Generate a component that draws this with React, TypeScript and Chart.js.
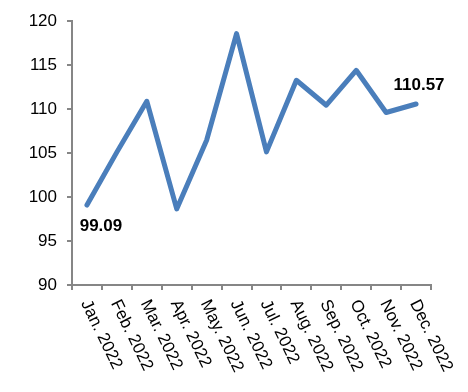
import React, { useEffect, useRef } from "react";
import { Chart, registerables } from "chart.js";

Chart.register(...registerables);

const categories = [
  "Jan. 2022", "Feb. 2022", "Mar. 2022", "Apr. 2022", "May. 2022", "Jun. 2022",
  "Jul. 2022", "Aug. 2022", "Sep. 2022", "Oct. 2022", "Nov. 2022", "Dec. 2022",
];
const values = [99.09, 105.1, 110.88, 98.65, 106.45, 118.57, 105.13, 113.27, 110.43, 114.4, 109.6, 110.57];
const labelledPoints = [
  { index: 0, text: "99.09", dx: 14, dy: 21 },
  { index: 11, text: "110.57", dx: 3, dy: -19 },
];
const yMin = 90;
const yMax = 120;
const yStep = 5;

const FONT = "'Liberation Sans', Arial, sans-serif";

const customLabels = {
  id: "customLabels",
  afterDraw(chart: any) {
    const { ctx } = chart;
    const xs = chart.scales.x;
    const ys = chart.scales.y;
    ctx.save();
    // rotated category labels
    ctx.fillStyle = "#000";
    ctx.font = `17px ${FONT}`;
    ctx.textAlign = "left";
    ctx.textBaseline = "middle";
    const ang = (64 * Math.PI) / 180;
    categories.forEach((c, i) => {
      const x = xs.getPixelForValue(i) - 2;
      const y = ys.bottom + 16;
      ctx.save();
      ctx.translate(x, y);
      ctx.rotate(ang);
      ctx.fillText(c, 0, 0);
      ctx.restore();
    });
    // data labels
    ctx.font = `bold 17px ${FONT}`;
    ctx.textAlign = "center";
    ctx.textBaseline = "middle";
    labelledPoints.forEach((p) => {
      const x = xs.getPixelForValue(p.index) + p.dx;
      const y = ys.getPixelForValue(values[p.index]) + p.dy;
      ctx.fillText(p.text, x, y);
    });
    ctx.restore();
  },
};

export default function App() {
  const ref = useRef<HTMLCanvasElement | null>(null);
  useEffect(() => {
    if (!ref.current) return;
    const chart = new Chart(ref.current, {
      type: "line",
      data: {
        labels: categories,
        datasets: [
          {
            data: values,
            borderColor: "#4A7EBB",
            borderWidth: 5,
            pointRadius: 0,
            tension: 0,
            borderCapStyle: "round",
            borderJoinStyle: "round",
            fill: false,
          },
        ],
      },
      options: {
        animation: false,
        responsive: false,
        layout: { padding: { left: 0, top: 21, right: 37, bottom: 0 } },
        plugins: { legend: { display: false }, tooltip: { enabled: false } },
        scales: {
          x: {
            type: "category",
            offset: true,
            grid: {
              display: true,
              offset: true,
              drawOnChartArea: false,
              drawTicks: true,
              tickLength: 5,
              color: "#868686",
              lineWidth: 2,
            },
            border: { display: true, color: "#868686", width: 2 },
            ticks: { display: false },
            afterFit: (s: any) => {
              s.height = 107;
            },
          },
          y: {
            min: yMin,
            max: yMax,
            grid: {
              display: true,
              drawOnChartArea: false,
              drawTicks: true,
              tickLength: 5,
              color: "#868686",
              lineWidth: 2,
            },
            border: { display: true, color: "#868686", width: 2 },
            ticks: {
              stepSize: yStep,
              color: "#000",
              padding: 10,
              font: { family: FONT, size: 17 },
            },
            afterFit: (s: any) => {
              s.width = 72;
            },
          },
        },
      },
      plugins: [customLabels],
    });
    return () => chart.destroy();
  }, []);
  return (
    <div style={{ position: "absolute", left: 0, top: 0, width: 468, height: 392, background: "#fff" }}>
      <canvas ref={ref} width={468} height={392} style={{ display: "block", width: 468, height: 392 }} />
    </div>
  );
}
